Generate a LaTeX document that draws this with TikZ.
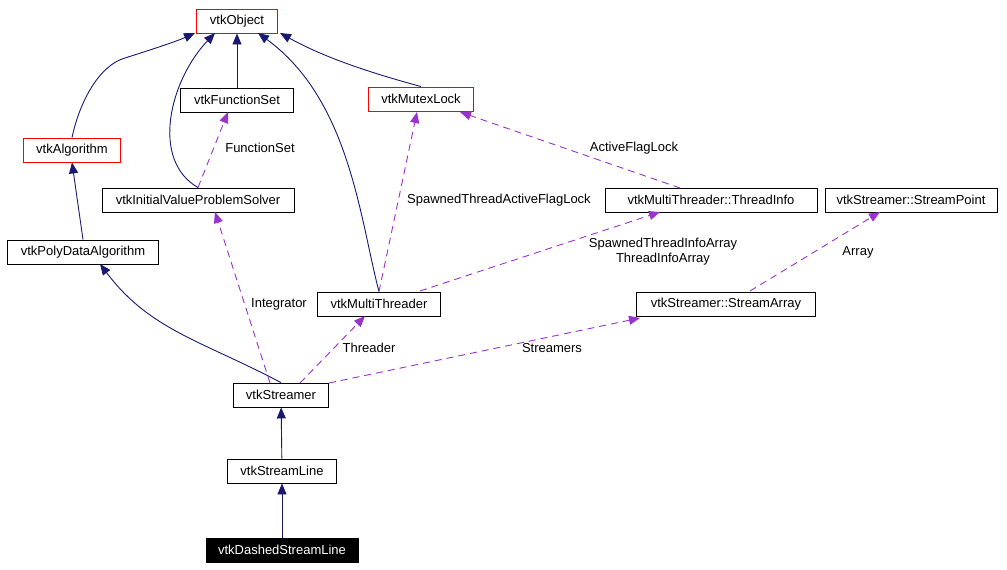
\documentclass[tikz,border=0pt]{standalone}
\usepackage{fontspec}
\setmainfont{Liberation Sans}
\usetikzlibrary{arrows.meta}
\begin{document}
\begin{tikzpicture}[x=1pt,y=-1pt,
  every node/.style={font=\fontsize{13}{15}\selectfont},
  box/.style={draw=black,fill=white,minimum height=24pt,inner sep=0pt,anchor=center,line width=0.9pt},
  red/.style={box,draw=red},
  inh/.style={draw=navy,line width=0.9pt,-{Triangle[length=11pt,width=9pt]}},
  col/.style={draw=violet,line width=0.9pt,dash pattern=on 7pt off 5pt,-{Triangle[length=11pt,width=9pt]}},
  lab/.style={fill=none,inner sep=1pt}]
\definecolor{navy}{RGB}{25,25,112}
\definecolor{violet}{RGB}{154,50,205}
\useasboundingbox (0,0) rectangle (1007,570);
\node[red,minimum width=81pt] (obj) at (237,21) {vtkObject};
\node[box,minimum width=113pt] (fs) at (237,100) {vtkFunctionSet};
\node[red,minimum width=105pt] (mx) at (421,99) {vtkMutexLock};
\node[red,minimum width=97pt] (alg) at (72,150) {vtkAlgorithm};
\node[box,minimum width=192pt] (ivp) at (198,200) {vtkInitialValueProblemSolver};
\node[box,minimum width=212pt] (ti) at (711,200) {vtkMultiThreader::ThreadInfo};
\node[box,minimum width=172pt] (sp) at (911,200) {vtkStreamer::StreamPoint};
\node[box,minimum width=151pt] (pda) at (83,252) {vtkPolyDataAlgorithm};
\node[box,minimum width=123pt] (mt) at (379,304) {vtkMultiThreader};
\node[box,minimum width=179pt] (sa) at (726,304) {vtkStreamer::StreamArray};
\node[box,minimum width=95pt] (st) at (281,395) {vtkStreamer};
\node[box,minimum width=109pt] (sl) at (282,471) {vtkStreamLine};
\node[box,fill=black,text=white,minimum width=152pt] (ds) at (282,550) {vtkDashedStreamLine};

\draw[inh] (fs) -- (obj);
\draw[inh] (alg.north) .. controls (80,100) and (100,65) .. (125,58) .. controls (150,50) and (175,42) .. (195,33);
\draw[inh] (ivp.north) .. controls (150,160) and (170,80) .. (215,33);
\draw[inh] (mt.north) .. controls (360,220) and (350,100) .. (258,33);
\draw[inh] (mx.north) .. controls (360,70) and (320,55) .. (280,33);
\draw[inh] (pda.north) -- (alg.south);
\draw[inh] (st.north) .. controls (200,340) and (150,330) .. (100,264);
\draw[inh] (sl) -- (st);
\draw[inh] (ds) -- (sl);

\draw[col] (ivp.north) -- (228,112);
\node[lab] (l0) at (260,148) {FunctionSet};
\draw[col] (mt.north) -- (417,112);
\node[lab] (l6) at (499,200) {SpawnedThreadActiveFlagLock};
\draw[col] (680,188) -- (460,112);
\node[lab] (l7) at (634,148) {ActiveFlagLock};
\draw[col] (420,291) -- (660,212);
\node[lab,align=center] (l1) at (663,252) {SpawnedThreadInfoArray\\ThreadInfoArray};
\draw[col] (750,291) -- (880,212);
\node[lab] (l2) at (858,252) {Array};
\draw[col] (270,383) -- (215,212);
\node[lab] (l3) at (279,304) {Integrator};
\draw[col] (300,383) -- (365,316);
\node[lab] (l4) at (369,348) {Threader};
\draw[col] (329,383) -- (640,318);
\node[lab] (l5) at (552,348) {Streamers};
\end{tikzpicture}
\end{document}
